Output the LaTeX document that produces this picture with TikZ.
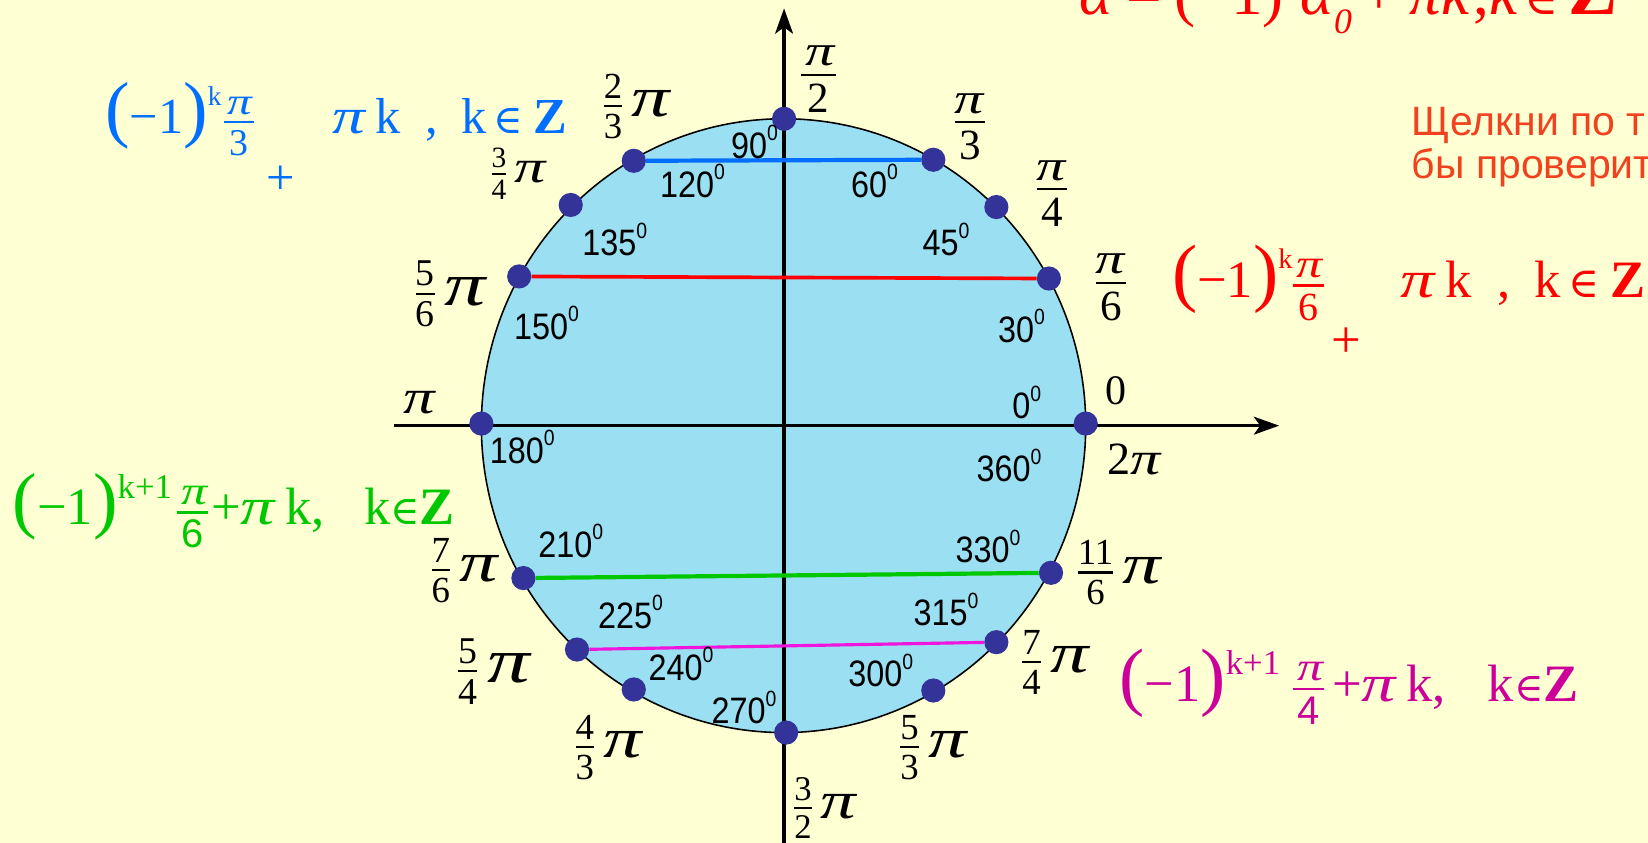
\documentclass[tikz,border=0pt]{standalone}
\usepackage{fontspec}
\setmainfont{Liberation Serif}
\newfontfamily\arialf{Liberation Sans}
\newfontfamily\symf{DejaVu Serif}
\usetikzlibrary{arrows.meta}

\definecolor{bgyellow}{RGB}{255,255,212}
\definecolor{diskblue}{RGB}{155,223,242}
\definecolor{dotnavy}{RGB}{51,51,153}
\definecolor{cblue}{RGB}{0,110,255}
\definecolor{cred}{RGB}{255,0,0}
\definecolor{cgreen}{RGB}{0,200,0}
\definecolor{cmag}{RGB}{204,0,153}
\definecolor{cpink}{RGB}{240,20,220}
\definecolor{cnote}{RGB}{242,65,30}

\newcommand{\fsz}[1]{\fontsize{#1}{#1}\selectfont}
% stacked fraction, bar about .3em above the baseline
\newcommand{\fr}[2]{\raisebox{\dimexpr-.55em-1pt\relax}{\setlength{\tabcolsep}{0pt}%
  \setlength{\arrayrulewidth}{2pt}\renewcommand{\arraystretch}{.6}%
  \begin{tabular}[b]{c}#1\\\hline\rule{0pt}{.85em}#2\end{tabular}}}
\newcommand{\wpi}{\scalebox{1.3}[1]{\textit{π}}}
\newcommand{\bpi}{\scalebox{1.35}[1]{\textit{π}}}
\newcommand{\fpi}[3]{{\fsz{#1}\fr{#2}{#3}}\,\bpi}
\newcommand{\dg}[1]{\scalebox{.88}[1]{#1\raisebox{.48em}{\fsz{21}0}}}
\newcommand{\mone}[1]{{\fsz{#1}(}−1{\fsz{#1})}}
\newcommand{\ein}[1]{{\symf\fsz{#1}∈}}

\begin{document}
\begin{tikzpicture}[x=1pt, y=-1pt,
    dot/.style={circle, fill=dotnavy, minimum size=23pt, inner sep=0pt},
    rad/.style={inner sep=0pt, font=\fsz{41}},
    big/.style={inner sep=0pt, font=\fsz{54}},
    deg/.style={inner sep=0pt, font=\arialf\fsz{35}},
    chord/.style={line width=3.5pt},
    axis/.style={line width=3pt, -{Stealth[length=24pt, width=17pt, inset=6pt]}},
    formula/.style={inner sep=0pt, anchor=base west, font=\fsz{48}}]
    \useasboundingbox (0,0) rectangle (1568,802);
    \clip (0,0) rectangle (1568,802);
    \fill[bgyellow] (0,0) rectangle (1568,802);

    % unit circle
    \draw[fill=diskblue, line width=1.5pt] (745.5,405) ellipse [x radius=287.5pt, y radius=292pt];

    % axes
    \coordinate (xs) at (375,405);
    \coordinate (xe) at (1217,405);
    \coordinate (ys) at (746,810);
    \coordinate (ye) at (746,8);
    \draw[axis] (xs) -- (xe);
    \draw[axis] (ys) -- (ye);

    % points on the circle
    \node[dot] (d0) at (1033,403) {};
    \node[dot] (d30) at (998,265) {};
    \node[dot] (d45) at (948,197) {};
    \node[dot] (d60) at (888,152) {};
    \node[dot] (d90) at (746,113) {};
    \node[dot] (d120) at (603,153) {};
    \node[dot] (d135) at (543,195) {};
    \node[dot] (d150) at (494,263) {};
    \node[dot] (d180) at (458,403) {};
    \node[dot] (d210) at (498,550) {};
    \node[dot] (d225) at (549,618) {};
    \node[dot] (d240) at (603,656) {};
    \node[dot] (d270) at (748,697) {};
    \node[dot] (d300) at (888,657) {};
    \node[dot] (d315) at (948,611) {};
    \node[dot] (d330) at (1000,545) {};

    % chords
    \draw[chord, cblue, line width=4pt] (d120) -- (d60);
    \draw[chord, cred] (d150) -- (d30);
    \draw[chord, cgreen, line width=4pt] (d210) -- (d330);
    \draw[chord, cpink, line width=3pt] (d225) -- (d315);

    % radian labels
    \node[rad] (r90) at (779,79) {\fr{\hspace{.1em}\bpi\hspace{.1em}}{2}};
    \node[rad] (r60) at (923,124) {\fr{\bpi\hspace{.3em}}{3\hspace{.3em}}};
    \node[rad] (r45) at (1001,188) {\fr{\bpi}{4}};
    \node[rad] (r30) at (1057,277) {\fr{\bpi\hspace{.3em}}{6\hspace{.3em}}};
    \node[rad, font=\fsz{40}] (r0) at (1062,372) {0};
    \node[rad, font=\fsz{44}] (r360) at (1080,437) {2\wpi};
    \node[big] (r330) at (1066,548) {\fpi{35}{11}{6}};
    \node[big] (r315) at (1005,633) {\fpi{35}{7}{4}};
    \node[big] (r300) at (889,714) {\fpi{35}{5}{3}};
    \node[big, font=\fsz{50}] (r270) at (786,772) {\fpi{33}{3}{2}};
    \node[big] (r240) at (580,714) {\fpi{35}{4}{3}};
    \node[big, font=\fsz{60}] (r225) at (471,642) {\fpi{36}{5}{4}};
    \node[big] (r210) at (443,546) {\fpi{35}{7}{6}};
    \node[rad, font=\fsz{46}] (r180) at (400,383) {\wpi};
    \node[big, font=\fsz{58}] (r150) at (430,283) {\fpi{36}{5}{6}};
    \node[big, font=\fsz{44}] (r135) at (494,168) {\fpi{28}{3}{4}};
    \node[big] (r120) at (607,104) {\fpi{35}{2}{3}};

    % degree labels
    \node[deg] (g90) at (718,135) {\dg{90}};
    \node[deg] (g120) at (659,172) {\dg{120}};
    \node[deg] (g60) at (832,172) {\dg{60}};
    \node[deg] (g135) at (585,228) {\dg{135}};
    \node[deg] (g45) at (900,228) {\dg{45}};
    \node[deg] (g150) at (520,307) {\dg{150}};
    \node[deg] (g30) at (972,310) {\dg{30}};
    \node[deg] (g0) at (977,383) {\dg{0}};
    \node[deg] (g180) at (497,425) {\dg{180}};
    \node[deg] (g360) at (960,443) {\dg{360}};
    \node[deg] (g210) at (543,515) {\dg{210}};
    \node[deg] (g330) at (940,520) {\dg{330}};
    \node[deg] (g225) at (600,582) {\dg{225}};
    \node[deg] (g315) at (900,580) {\dg{315}};
    \node[deg] (g240) at (648,632) {\dg{240}};
    \node[deg] (g300) at (838,638) {\dg{300}};
    \node[deg] (g270) at (708,673) {\dg{270}};

    % series of solutions
    \node[formula, text=cblue] (fblue) at (100,127)
      {\mone{70}\raisebox{.55em}{\fsz{26}k}\hspace{.05em}{\fsz{36}\fr{\hspace{.1em}\wpi\hspace{.2em}}{3\hspace{.2em}}}\hspace{.25em}\raisebox{-1.2em}{+}\hspace{.75em}\wpi\,k\hspace{.5em},\hspace{.45em}k\hspace{.15em}\ein{38}\hspace{.2em}\textbf{Z}};
    \node[formula, text=cred, font=\fsz{50}] (fred) at (1115,283)
      {\mone{72}\raisebox{.55em}{\fsz{27}k}{\fsz{38}\fr{\hspace{.1em}\wpi\hspace{.2em}}{6\hspace{.2em}}}\hspace{.15em}\raisebox{-1.15em}{+}\hspace{.75em}\wpi\,k\hspace{.5em},\hspace{.45em}k\hspace{.15em}\ein{40}\hspace{.2em}\textbf{Z}};
    \node[formula, text=cgreen, font=\fsz{50}] (fgreen) at (12,499)
      {\mone{70}\raisebox{.5em}{\fsz{33}k+1}\hspace{.1em}{\fsz{38}\fr{\hspace{.1em}\wpi\hspace{.1em}}{\arialf 6}}\hspace{.05em}+\wpi\,k,\hspace{.75em}k\ein{38}\textbf{Z}};
    \node[formula, text=cmag, font=\fsz{50}] (fmag) at (1065,667)
      {\mone{72}\raisebox{.5em}{\fsz{33}k+1}\hspace{.25em}{\fsz{38}\fr{\hspace{.1em}\wpi\hspace{.1em}}{\arialf 4}}\hspace{.15em}+\wpi\,k,\hspace{.8em}k\ein{38}\textbf{Z}};
    \node[formula, text=cred, font=\fsz{60}] (ftop) at (1027,14)
      {\textit{α}\hspace{.2em}=\hspace{.2em}(−1)\raisebox{.6em}{\fsz{34}\textit{k}}\textit{α}\raisebox{-.3em}{\fsz{34}\textit{0}}\hspace{.15em}+\hspace{.2em}\textit{πk}\hspace{.05em},\textit{k}\hspace{.1em}\ein{44}\hspace{.15em}{\fsz{70}\textbf{Z}}};

    % hint text
    \node[inner sep=0pt, anchor=base west, text=cnote, font=\arialf\fsz{39}] (hint1) at (1343,129) {Щелкни по т};
    \node[inner sep=0pt, anchor=base west, text=cnote, font=\arialf\fsz{39}] (hint2) at (1343,170) {бы проверит};
\end{tikzpicture}
\end{document}
